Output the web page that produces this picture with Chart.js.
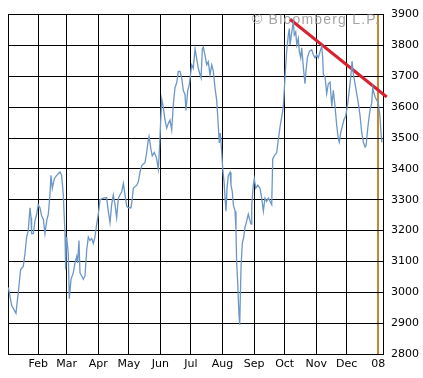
<!DOCTYPE html>
<html>
<head>
<meta charset="utf-8">
<script src="https://cdn.jsdelivr.net/npm/chart.js@4.4.0/dist/chart.umd.min.js"></script>
<style>
  html, body { margin: 0; padding: 0; background: #fff; }
  #wrap { width: 423px; height: 378px; }
</style>
</head>
<body>
<div id="wrap"><canvas id="indexChart" width="423" height="378"></canvas></div>
<script>
// day of year (2007, 1 = Jan 1) and index close
const days = [
  1.6, 4.9, 9.1, 11.4, 13.7, 16.3, 18, 19.6, 21.2, 22.9, 23.9, 24.5, 26.2, 27.8, 29.5,
  31, 32.7, 34.4, 36, 37.6, 39.3, 40.9, 42.5, 43.5, 44.8, 46.8, 49.1, 50.7, 52.4, 54,
  55.6, 57.3, 57.9, 58.9, 60.5, 61.5, 63.2, 65.4, 67.1, 68.8, 69.7, 71, 72, 73.7, 75.3,
  76.9, 78.6, 80.2, 81.8, 83.5, 85.1, 86.7, 88.4, 90,
  91.7, 94.9, 98.2, 99.8, 101.5, 103.1, 104.7, 106.4, 108, 109.7, 111.3, 113, 114.6, 116.2,
  117.9, 119.5, 122.1, 123.4, 124.4, 127.7, 129.3, 130.9, 132.6, 135.9, 137.5, 139.1, 139.8,
  141.7, 143, 145, 146.4, 147.3, 148.9, 149.9, 151.3, 152.3, 153.8, 155.5, 157.2, 158.7,
  160.4, 162.1, 163.7, 165.3, 167, 168.6, 170.2, 171.9, 173.5, 175.1, 176.1, 177.8, 179.4, 181.7,
  183.3, 185, 186.6, 188.2, 189.9, 190.9, 192.2, 193.1, 194.8, 196.5, 198, 199.7, 201.4, 203,
  204.6, 206.3, 206.9, 207.9, 208.8, 209.8, 211.2, 212.2, 213.5, 214.5, 215.4, 216.4, 217.7,
  219.4, 220.3, 221.6, 222.6, 224.3, 225.2, 225.9, 226.9, 227.5, 228.2, 228.9, 229.5, 230.2,
  231.4, 232.8, 234.1, 235.8, 237.3, 239, 240, 240.7, 242.2, 243.2, 244.6, 246.6, 248.8, 250.5,
  252.1, 253.7, 255.3, 257, 258.6, 260.3, 261.3, 262.8, 265.2, 266.8, 268.5, 270.1, 271.7,
  273.4, 275, 276.6, 277.6, 278.3, 280, 281.5, 282.5, 283.9, 284.9, 286.4, 287.4, 288.8, 289.8,
  291.4, 293, 294, 295.3, 297.3, 299.6, 301.2, 302.8, 304.5, 306.1, 307.8, 309.4, 310.4, 311,
  312.7, 314.3, 315.9, 317.6, 318.6, 319.3, 320.8, 322.5, 324.2, 325.7, 326.7, 328.1, 329.7,
  331.3, 333, 335, 336.5, 337.9, 339.2, 340.5, 342.1, 343.8, 345.4, 347.1, 348.7, 350.3, 352,
  353, 354.2, 355.6, 356.9, 358.5, 359.5, 360.8, 361.8, 363.4, 365, 366.6, 367.6, 368.5
];
const closes = [
  3016, 2958, 2932, 3000, 3074, 3084, 3126, 3180, 3200, 3274, 3242, 3190, 3190, 3232, 3253,
  3284, 3274, 3247, 3237, 3190, 3232, 3253, 3316, 3379, 3337, 3368, 3379, 3384, 3390, 3379,
  3316, 3190, 3074, 3179, 3126, 2979, 3042, 3063, 3095, 3116, 3095, 3168, 3063, 3053, 3042,
  3053, 3137, 3179, 3168, 3174, 3158, 3179, 3221, 3253,
  3300, 3305, 3307, 3263, 3226, 3284, 3316, 3284, 3242, 3305, 3316, 3326, 3353, 3316,
  3279, 3274, 3274, 3305, 3337, 3347, 3358, 3389, 3411, 3421, 3453, 3495, 3505,
  3463, 3442, 3453, 3442, 3432, 3400, 3453, 3558, 3626, 3600, 3558, 3532, 3547,
  3558, 3526, 3610, 3663, 3679, 3716, 3716, 3695, 3653, 3642, 3589, 3653, 3674, 3737,
  3726, 3789, 3758, 3726, 3705, 3695, 3789, 3795, 3768, 3737, 3747, 3705, 3737, 3716,
  3663, 3621, 3589, 3537, 3484, 3516, 3453, 3400, 3358, 3305, 3263, 3337, 3379,
  3389, 3347, 3326, 3284, 3263, 3200, 3095, 3032, 2979, 2926, 2895, 2989, 3084,
  3158, 3179, 3211, 3232, 3253, 3232, 3221, 3284, 3347, 3368, 3337, 3347, 3337, 3305,
  3263, 3305, 3295, 3305, 3295, 3284, 3432, 3442, 3453, 3495, 3537, 3568, 3600,
  3700, 3781, 3834, 3855, 3802, 3844, 3876, 3834, 3844, 3802, 3823, 3781, 3760, 3792,
  3728, 3676, 3718, 3760, 3781, 3786, 3770, 3760, 3770, 3760, 3781, 3797, 3760, 3707,
  3697, 3644, 3676, 3681, 3634, 3602, 3655, 3602, 3539, 3497, 3486, 3518, 3539,
  3560, 3571, 3613, 3655, 3697, 3749, 3707, 3676, 3644, 3613, 3571, 3518, 3486, 3471,
  3476, 3518, 3560, 3592, 3613, 3665, 3644, 3634, 3623, 3613, 3571, 3518, 3486
];

// red trend line end points
const trendDays = [278.3, 373.3];
const trendValues = [3885, 3633];

// first day of each month and its label
const monthTicks = [31, 59, 90, 120, 151, 181, 212, 243, 273, 304, 334, 365];
const monthLabels = ['Feb', 'Mar', 'Apr', 'May', 'Jun', 'Jul', 'Aug', 'Sep', 'Oct', 'Nov', 'Dec', '08'];

const yMin = 2800;
const yMax = 3900;

Chart.defaults.font.family = "'DejaVu Sans', Verdana, sans-serif";
Chart.defaults.font.size = 11;
Chart.defaults.color = '#000';

// box round the plot + watermark, drawn under the lines
const framePlugin = {
    id: 'frame',
    beforeDatasetsDraw(chart) {
        const { ctx, chartArea: a } = chart;
        ctx.save();
        ctx.beginPath();
        ctx.rect(a.left, a.top, a.right - a.left, a.bottom - a.top);
        ctx.clip();
        ctx.fillStyle = '#a4a4a4';
        ctx.font = "14px 'Liberation Sans', Arial, sans-serif";
        ctx.letterSpacing = '1.2px';
        ctx.textBaseline = 'alphabetic';
        ctx.fillText('\u00A9 Bloomberg L.P.', 252, 23.5);
        ctx.restore();

        ctx.save();
        ctx.strokeStyle = '#000';
        ctx.lineWidth = 1;
        ctx.beginPath();
        ctx.moveTo(a.left + 0.5, a.top);
        ctx.lineTo(a.left + 0.5, a.bottom);
        ctx.stroke();
        ctx.restore();
    }
};

const ctx = document.getElementById('indexChart').getContext('2d');
const chart = new Chart(ctx, {
    type: 'line',
    data: {
        datasets: [{
            data: days.map((d, i) => ({ x: d, y: closes[i] })),
            borderColor: '#6b97c7',
            borderWidth: 1.3,
            pointRadius: 0,
            tension: 0
        }, {
            data: trendDays.map((d, i) => ({ x: d, y: trendValues[i] })),
            borderColor: '#d8232f',
            borderWidth: 3,
            pointRadius: 0,
            clip: false
        }]
    },
    options: {
        responsive: false,
        animation: false,
        devicePixelRatio: 1,
        layout: { padding: { left: 8, top: 5, right: 0, bottom: 0 } },
        plugins: {
            legend: { display: false },
            tooltip: { enabled: false }
        },
        scales: {
            x: {
                type: 'linear',
                min: 1.3,
                max: 369.6,
                afterFit: s => { s.height = 24; },
                afterBuildTicks: s => { s.ticks = monthTicks.map(v => ({ value: v })); },
                grid: {
                    drawTicks: false,
                    color: c => (c.tick && c.tick.value === 365) ? '#c9852f' : '#000',
                    lineWidth: c => (c.tick && c.tick.value === 365) ? 2 : 1
                },
                border: { display: false },
                ticks: {
                    autoSkip: false,
                    maxRotation: 0,
                    padding: 4,
                    callback: (v, i) => monthLabels[i]
                }
            },
            y: {
                position: 'right',
                min: yMin,
                max: yMax,
                afterFit: s => { s.width = 40; },
                grid: { drawTicks: false, color: '#000', lineWidth: 1 },
                border: { color: '#000', width: 1 },
                ticks: {
                    stepSize: 100,
                    padding: 8,
                    callback: v => String(v)
                }
            }
        }
    },
    plugins: [framePlugin]
});
</script>
</body>
</html>
